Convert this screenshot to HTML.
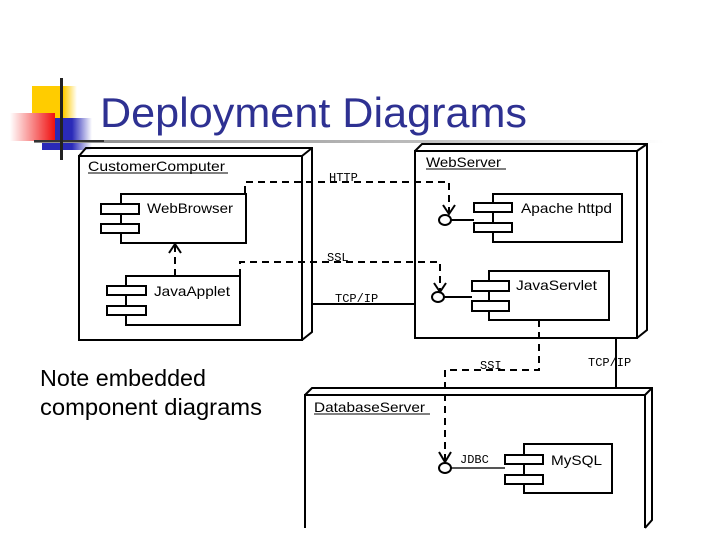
<!DOCTYPE html>
<html><head><style>body{margin:0;background:#fff}svg{display:block}</style></head><body>
<svg width="720" height="540" viewBox="0 0 720 540" xmlns="http://www.w3.org/2000/svg" font-family="Liberation Sans, sans-serif">
<defs>
<linearGradient id="rg" x1="0" x2="1"><stop offset="0" stop-color="#fff"/><stop offset="1" stop-color="#f01010"/></linearGradient>
<linearGradient id="bg" x1="0" x2="1"><stop offset="0" stop-color="#2a2ab8"/><stop offset="0.6" stop-color="#2a2ab8"/><stop offset="1" stop-color="#fff"/></linearGradient>
<linearGradient id="yg" x1="0" x2="1"><stop offset="0" stop-color="#ffcc00"/><stop offset="0.7" stop-color="#ffcc00"/><stop offset="1" stop-color="#fff"/></linearGradient>
<linearGradient id="lg" x1="0" x2="1"><stop offset="0" stop-color="#888"/><stop offset="0.6" stop-color="#bbb"/><stop offset="1" stop-color="#fff"/></linearGradient>
</defs>
<rect x="32" y="86" width="45" height="32" fill="url(#yg)"/>
<rect x="42" y="118" width="50" height="32" fill="url(#bg)"/>
<rect x="10" y="113" width="45" height="28" fill="url(#rg)"/>
<rect x="34" y="140" width="630" height="3" fill="url(#lg)"/>
<rect x="34" y="140" width="70" height="2" fill="#333"/>
<rect x="60" y="78" width="3" height="82" fill="#222"/>
<text x="100" y="127" font-size="42" fill="#2e3192" textLength="427" lengthAdjust="spacingAndGlyphs">Deployment Diagrams</text>
<g fill="none" stroke="#000" stroke-width="2">
<path d="M79 156 L86 148 L312 148 L312 332 L302 340 M302 156 L312 148"/>
<rect x="79" y="156" width="223" height="184"/>
<path d="M415 151 L422 144 L647 144 L647 330 L637 338 M637 151 L647 144"/>
<rect x="415" y="151" width="222" height="187"/>
<path d="M305 395 L312 388 L652 388 L652 520 L645 528 M645 395 L652 388"/>
<path d="M305 528 L305 395 L645 395 L645 528"/>
<rect x="121" y="194" width="125" height="49"/>
<rect x="126" y="276" width="114" height="49"/>
<rect x="493" y="194" width="129" height="48"/>
<rect x="489" y="271" width="120" height="49"/>
<rect x="524" y="444" width="88" height="49"/>
</g>
<g fill="#fff" stroke="#000" stroke-width="2">
<rect x="101" y="204" width="38" height="10"/><rect x="101" y="224" width="38" height="9"/>
<rect x="107" y="286" width="39" height="9"/><rect x="107" y="306" width="39" height="9"/>
<rect x="474" y="203" width="38" height="9"/><rect x="474" y="223" width="38" height="9"/>
<rect x="472" y="281" width="37" height="10"/><rect x="472" y="301" width="37" height="10"/>
<rect x="505" y="455" width="38" height="9"/><rect x="505" y="475" width="38" height="9"/>
</g>
<g stroke="#000" stroke-width="2" fill="none">
<path d="M312 304 H415"/>
<path d="M616 338 V388"/>
<path d="M451 220 H474"/><path d="M444 297 H472"/><path d="M451 468 H505" stroke="#555"/>
<ellipse cx="445" cy="220" rx="6" ry="5"/>
<ellipse cx="438" cy="297" rx="6" ry="5"/>
<ellipse cx="445" cy="468" rx="6" ry="5"/>
</g>
<g stroke="#000" stroke-width="2" fill="none" stroke-dasharray="7,5">
<path d="M245 193 V182 H449 V212"/>
<path d="M240 276 V262 H440 V290"/>
<path d="M539 320 V370 H445 V460"/>
<path d="M175 276 V246"/>
</g>
<g stroke="#000" stroke-width="2" fill="none">
<path d="M443 205 L449 214 L455 205"/>
<path d="M434 283 L440 292 L446 283"/>
<path d="M439 452 L445 462 L451 452"/>
<path d="M169 253 L175 244 L181 253"/>
</g>
<g font-size="14" fill="#000" lengthAdjust="spacingAndGlyphs">
<text x="88" y="171" textLength="137" lengthAdjust="spacingAndGlyphs">CustomerComputer</text>
<path d="M88 173 H228" stroke="#000"/>
<text x="147" y="213" textLength="86" lengthAdjust="spacingAndGlyphs">WebBrowser</text>
<text x="154" y="296" textLength="76" lengthAdjust="spacingAndGlyphs">JavaApplet</text>
<text x="426" y="167" textLength="75" lengthAdjust="spacingAndGlyphs">WebServer</text>
<path d="M426 169 H506" stroke="#000"/>
<text x="521" y="213" textLength="91" lengthAdjust="spacingAndGlyphs">Apache httpd</text>
<text x="516" y="290" textLength="81" lengthAdjust="spacingAndGlyphs">JavaServlet</text>
<text x="314" y="412" textLength="111" lengthAdjust="spacingAndGlyphs">DatabaseServer</text>
<path d="M314 414 H430" stroke="#000"/>
<text x="551" y="465" textLength="51" lengthAdjust="spacingAndGlyphs">MySQL</text>
</g>
<g font-family="Liberation Mono, monospace" font-size="12" fill="#000">
<text x="329" y="181">HTTP</text>
<text x="327" y="261">SSL</text>
<text x="335" y="302">TCP/IP</text>
<text x="480" y="369">SSI</text>
<text x="588" y="366">TCP/IP</text>
<text x="460" y="463">JDBC</text>
</g>
<text x="40" y="386" font-size="23" fill="#000" textLength="166" lengthAdjust="spacingAndGlyphs">Note embedded</text>
<text x="40" y="415" font-size="23" fill="#000" textLength="222" lengthAdjust="spacingAndGlyphs">component diagrams</text>
</svg>
</body></html>
